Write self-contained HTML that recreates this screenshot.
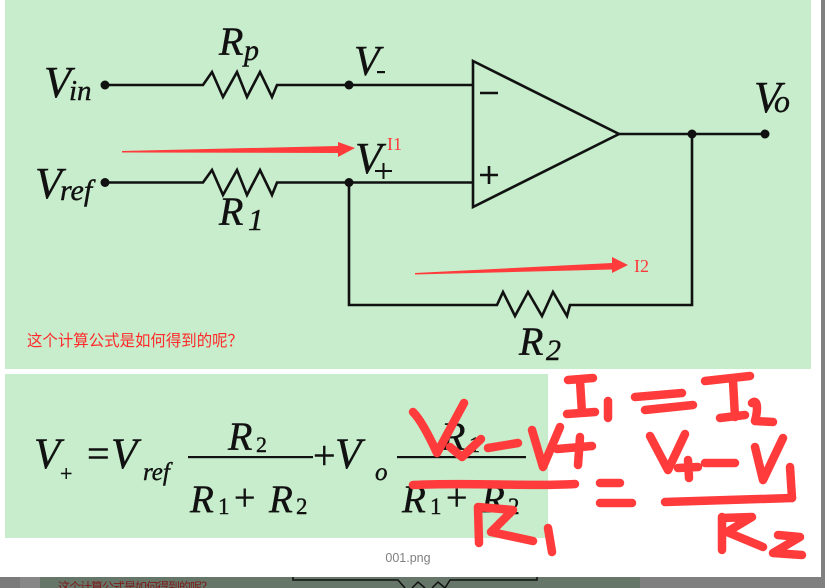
<!DOCTYPE html>
<html><head><meta charset="utf-8"><style>
html,body{margin:0;padding:0;background:#fff;width:825px;height:588px;overflow:hidden}
svg{display:block}
</style></head><body>
<svg width="825" height="588" viewBox="0 0 825 588" xmlns="http://www.w3.org/2000/svg">
<rect x="0" y="0" width="825" height="588" fill="#fff"/>
<rect x="5" y="0" width="806" height="369" fill="#c7edcc"/>
<rect x="5" y="374" width="543" height="164" fill="#c7edcc"/>
<rect x="821" y="0" width="4" height="588" fill="#808080"/>
<!-- bottom strip -->
<rect x="0" y="577" width="20" height="11" fill="#7b7b7b"/>
<rect x="20" y="577" width="20" height="11" fill="#878787"/>
<rect x="40" y="577" width="600" height="11" fill="#66776a"/>
<rect x="640" y="577" width="185" height="11" fill="#808080"/>
<text x="58" y="591" font-family="Liberation Sans, Noto Sans CJK SC, sans-serif" font-size="12" fill="#7d1a1a" textLength="155">这个计算公式是如何得到的呢？</text>
<path d="M293,577 L293,580 L398,580 L405,588 M412,588 L418,582 L425,588 M432,588 L438,582 L445,588 L450,580 L537,580 L537,577" fill="none" stroke="#111" stroke-width="1.5"/>

<text x="408" y="562" text-anchor="middle" font-family="Liberation Sans, sans-serif" font-size="12.5" fill="#808080">001.png</text>

<!-- circuit wires -->
<g fill="none" stroke="#111" stroke-width="2.6" stroke-linejoin="miter">
<path d="M105,85 L203,85 L212,72 L223,97 L237,72 L247,97 L260,72 L272,97 L277,85 L473,85"/>
<path d="M105,182.5 L203,182.5 L212,170 L223,195 L237,170 L247,195 L260,170 L272,195 L277,182.5 L473,182.5"/>
<path d="M349,182.5 L349,305 L497,305 L503,292 L515,316 L528,292 L542,316 L553,292 L567,316 L570,305 L692,305 L692,134"/>
<path d="M473,61 L619,134 L473,207 Z"/>
<path d="M619,134 L765,134"/>
<path d="M480,93 L498,93 M480,175 L498,175 M489,166 L489,184"/>
</g>
<g fill="#111">
<circle cx="105" cy="85" r="4.5"/>
<circle cx="349" cy="85" r="4.5"/>
<circle cx="105" cy="182.5" r="4.5"/>
<circle cx="349" cy="182.5" r="4.5"/>
<circle cx="692" cy="134" r="4.5"/>
<circle cx="765" cy="134" r="4.5"/>
</g>

<!-- circuit labels -->
<g font-family="Liberation Serif, serif" font-style="italic" fill="#111" stroke="#111" stroke-width="0.4">
<text x="44" y="97" font-size="44">V</text>
<text x="69" y="100" font-size="29">in</text>
<text x="219" y="55" font-size="40">R</text>
<text x="244" y="60" font-size="30">p</text>
<text x="354" y="75" font-size="42">V</text>
<text x="355" y="173" font-size="44">V</text>
<text x="35" y="198" font-size="44">V</text>
<text x="60" y="200" font-size="30">ref</text>
<text x="219" y="225" font-size="40">R</text>
<text x="248" y="230" font-size="31">1</text>
<text x="519" y="355" font-size="40">R</text>
<text x="546" y="360" font-size="30">2</text>
<text x="754" y="112" font-size="44">V</text>
<text x="774" y="112" font-size="32">o</text>
</g>
<rect x="377" y="71" width="8" height="2.2" fill="#111"/>
<path d="M375,171 L392,171 M383.5,163 L383.5,179" stroke="#111" stroke-width="2" fill="none"/>

<!-- red arrows -->
<polygon points="122,151 338,146 338,142 355,148 338,157 338,153 122,152.5" fill="#ff3b3b"/>
<polygon points="415,273 612,263 612,257 628,265 612,273 612,269.5 415,274.5" fill="#ff3b3b"/>
<text x="387" y="150" font-family="Liberation Serif, serif" font-size="18" fill="#ff3b3b">I1</text>
<text x="634" y="272" font-family="Liberation Serif, serif" font-size="18" fill="#ff3b3b">I2</text>
<text x="27" y="346" font-family="Liberation Sans, Noto Sans CJK SC, sans-serif" font-size="16" fill="#ff2a2a" textLength="216" lengthAdjust="spacingAndGlyphs">这个计算公式是如何得到的呢？</text>

<!-- formula -->
<g font-family="Liberation Serif, serif" fill="#111" stroke="#111" stroke-width="0.4">
<text x="34" y="468" font-size="43" font-style="italic">V</text>
<text x="60" y="481" font-size="22">+</text>
<text x="87" y="467" font-size="40">=</text>
<text x="111" y="468" font-size="43" font-style="italic">V</text>
<text x="143" y="480" font-size="25" font-style="italic">ref</text>
<text x="228" y="450" font-size="40" font-style="italic">R</text>
<text x="256" y="452" font-size="22">2</text>
<text x="190" y="512" font-size="39" font-style="italic">R</text>
<text x="218" y="514" font-size="23">1</text>
<text x="234" y="510" font-size="38">+</text>
<text x="269" y="512" font-size="39" font-style="italic">R</text>
<text x="296" y="514" font-size="23">2</text>
<text x="313" y="469" font-size="40">+</text>
<text x="335" y="468" font-size="43" font-style="italic">V</text>
<text x="375" y="480" font-size="25" font-style="italic">o</text>
<text x="441" y="450" font-size="40" font-style="italic">R</text>
<text x="469" y="452" font-size="22">1</text>
<text x="402" y="512" font-size="39" font-style="italic">R</text>
<text x="430" y="514" font-size="23">1</text>
<text x="446" y="510" font-size="38">+</text>
<text x="481" y="512" font-size="39" font-style="italic">R</text>
<text x="508" y="514" font-size="23">2</text>
</g>
<rect x="188" y="456" width="125" height="2.2" fill="#111"/>
<rect x="397" y="456" width="129" height="2.2" fill="#111"/>

<!-- handwriting -->
<g fill="none" stroke="#ff3b3b" stroke-width="8.5" stroke-linecap="round" stroke-linejoin="round">
<path d="M413,412 C421,420 431,440 437,453 L464,403"/>
<path d="M450,447 L462,457 L481,439"/>
<path d="M488,448 L518,443"/>
<path d="M532,430 L543,467 L560,427"/>
<path d="M557,449 L592,446 M580,437 L578,465"/>
<path d="M413,485 C470,482 530,487 575,484"/>
<path d="M478,507 L479,543 M478,507 L513,510 L491,532 L533,541"/>
<path d="M548,528 L552,552"/>
<path d="M568,380 L593,378 M580,381 L582,413 M567,414 L595,412"/>
<path d="M608,401 L608,418"/>
<path d="M635,397 L682,393 M645,410 L693,405"/>
<path d="M705,381 L750,376 M733,381 L735,417 M720,418 L745,415"/>
<path d="M752,403 C758,398 758,410 755,421 L773,422"/>
<path d="M650,436 L668,470 M685,434 L668,470"/>
<path d="M678,468 L698,467 M688,460 L689,478"/>
<path d="M705,463 L735,463"/>
<path d="M755,447 L763,480 M783,438 L763,480"/>
<path d="M790,467 L792,498"/>
<path d="M665,502 L792,498"/>
<path d="M600,483 L620,483 M600,503 L632,503"/>
<path d="M722,517 L722,550 M722,518 L752,517 L727,532 L763,547"/>
<path d="M778,535 L800,537 L773,553 L802,555"/>
</g>
</svg>
</body></html>
